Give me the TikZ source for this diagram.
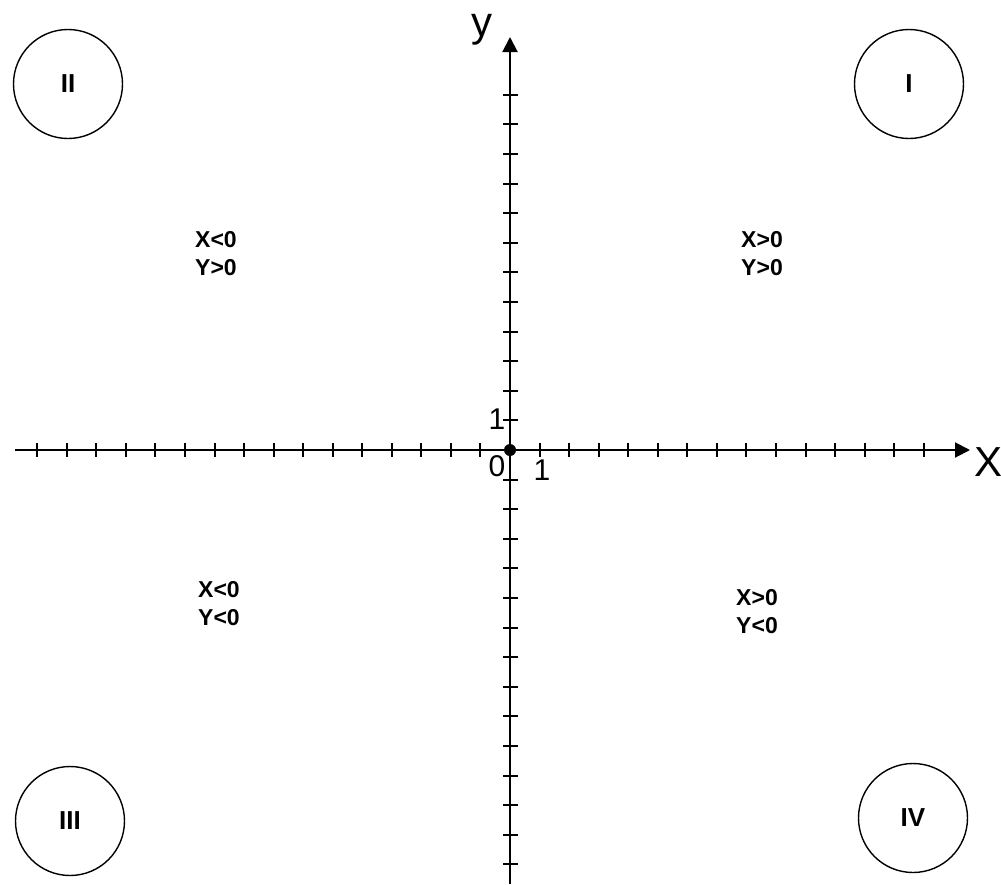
\documentclass[tikz,border=0pt]{standalone}
\usepackage{fontspec}
\setmainfont{Liberation Sans}
\usetikzlibrary{arrows.meta}
\tikzset{
  axis/.style={line width=2pt, -{Triangle[length=15pt,width=15pt]}},
  tickmark/.style={line width=2pt},
  quad/.style={circle, draw, line width=1.4pt, minimum size=109pt, inner sep=0pt,
    font=\fontsize{26}{26}\selectfont\bfseries},
  cond/.style={align=center, inner sep=0pt, font=\fontsize{23}{28}\selectfont\bfseries},
  axlabel/.style={inner sep=0pt, font=\fontsize{42}{42}\selectfont},
  numlabel/.style={inner sep=0pt, font=\fontsize{30}{30}\selectfont}
}
\begin{document}
\begin{tikzpicture}[x=1pt,y=-1pt]
\useasboundingbox (0,0) rectangle (1001,884);
\fill[white] (0,0) rectangle (1001,884);
% axes
\coordinate (xs) at (15,450);
\coordinate (xe) at (970,450);
\coordinate (ys) at (510,884);
\coordinate (ye) at (510,37);
\draw[axis] (xs) -- (xe);
\draw[axis] (ys) -- (ye);
% ticks
\foreach \k in {-16,...,-1,1,2,...,14}{
  \draw[tickmark] (510+29.55*\k,443) -- (510+29.55*\k,457);
}
\foreach \k in {-12,...,-1,1,2,...,14}{
  \draw[tickmark] (503,450+29.6*\k) -- (518,450+29.6*\k);
}
% origin
\node[circle, fill, minimum size=12pt, inner sep=0pt] (o) at (510,450) {};
% axis labels
\node[axlabel] (ylab) at (482,30) {y};
\node[axlabel] (xlab) at (988,462) {X};
\node[numlabel] (one-y) at (497,419) {1};
\node[numlabel] (zero) at (497,466) {0};
\node[numlabel] (one-x) at (542,470) {1};
% quadrant circles
\node[quad] (qI) at (909,84) {I};
\node[quad] (qII) at (68,84) {II};
\node[quad] (qIII) at (70,821) {III};
\node[quad] (qIV) at (913,818) {IV};
% conditions
\node[cond] (c1) at (762,254) {X>0\\Y>0};
\node[cond] (c2) at (216,254) {X<0\\Y>0};
\node[cond] (c3) at (219,604) {X<0\\Y<0};
\node[cond] (c4) at (757,612) {X>0\\Y<0};
\end{tikzpicture}
\end{document}
